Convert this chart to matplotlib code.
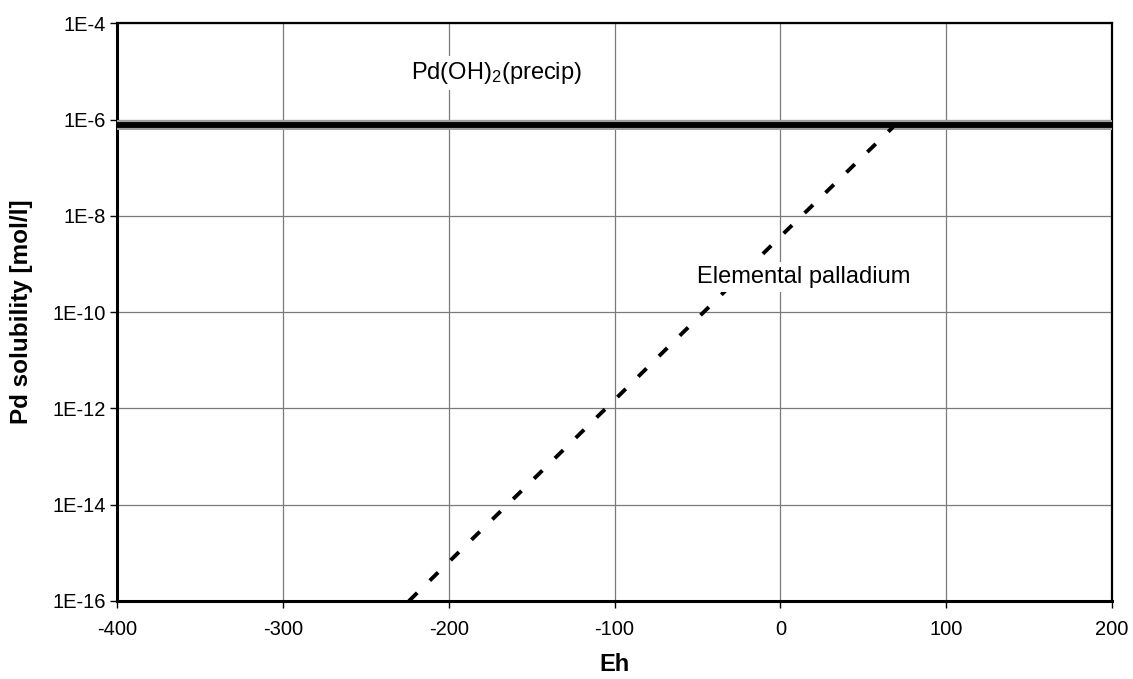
import matplotlib
matplotlib.use("Agg")
import matplotlib.pyplot as plt
import matplotlib.ticker as mticker
import numpy as np

plt.rcParams['font.family'] = ['Liberation Sans', 'DejaVu Sans']
plt.rcParams['mathtext.fontset'] = 'custom'
plt.rcParams['mathtext.rm'] = 'Liberation Sans'
plt.rcParams['mathtext.it'] = 'Liberation Sans:italic'
plt.rcParams['axes.unicode_minus'] = False

# Pd(OH)2 solubility limit (constant over Eh)
eh_precip = [-400, 200]
sol_precip = [7.8e-7, 7.8e-7]

# solubility controlled by elemental palladium
eh_elemental = [-224, -100, 0, 68]
sol_elemental = [1e-16, 1.5e-12, 3.7e-9, 7e-7]

x_ticks = [-400, -300, -200, -100, 0, 100, 200]
y_ticks = [1e-16, 1e-14, 1e-12, 1e-10, 1e-8, 1e-6, 1e-4]
y_labels = ["1E-16", "1E-14", "1E-12", "1E-10", "1E-8", "1E-6", "1E-4"]

fig = plt.figure(figsize=(11.33, 6.79), dpi=100)
ax = fig.add_axes([0.1033, 0.1149, 0.8782, 0.8509])

ax.set_yscale("log")
ax.set_xlim(-400, 200)
ax.set_ylim(1e-16, 1e-4)

ax.xaxis.set_major_locator(mticker.FixedLocator(x_ticks))
ax.yaxis.set_major_locator(mticker.FixedLocator(y_ticks))
ax.yaxis.set_minor_locator(mticker.NullLocator())
ax.set_yticklabels(y_labels)

ax.grid(True, color="#7a7a7a", linewidth=0.9)
ax.set_axisbelow(True)

# thick black line with a grey rim
ax.plot(eh_precip, sol_precip, color="#a0a0a0", linewidth=7.2,
        solid_capstyle="butt", zorder=3)
ax.plot(eh_precip, sol_precip, color="black", linewidth=4.2,
        solid_capstyle="butt", zorder=4)

ax.plot(eh_elemental, sol_elemental, color="black", linewidth=2.8,
        dashes=(3.0, 4.5), zorder=4)

ax.text(-223, 10**-5.03, "Pd(OH)$_2$(precip)", fontsize=17,
        va="center", ha="left", zorder=5,
        bbox=dict(facecolor="white", edgecolor="none", pad=3))
ax.text(-50, 10**-9.27, "Elemental palladium", fontsize=17,
        va="center", ha="left", zorder=5,
        bbox=dict(facecolor="white", edgecolor="none", pad=3))

for side in ["left", "bottom"]:
    ax.spines[side].set_linewidth(2.2)
for side in ["top", "right"]:
    ax.spines[side].set_linewidth(1.6)

ax.tick_params(axis="both", direction="out", length=5, width=1,
               labelsize=14.5)
ax.tick_params(axis="x", pad=9)
ax.tick_params(axis="y", pad=3)

ax.set_xlabel("Eh", fontsize=17, fontweight="bold", labelpad=10)
ax.set_ylabel("Pd solubility [mol/l]", fontsize=17.5, fontweight="bold",
              labelpad=14)

fig.savefig("out.png", dpi=100)
